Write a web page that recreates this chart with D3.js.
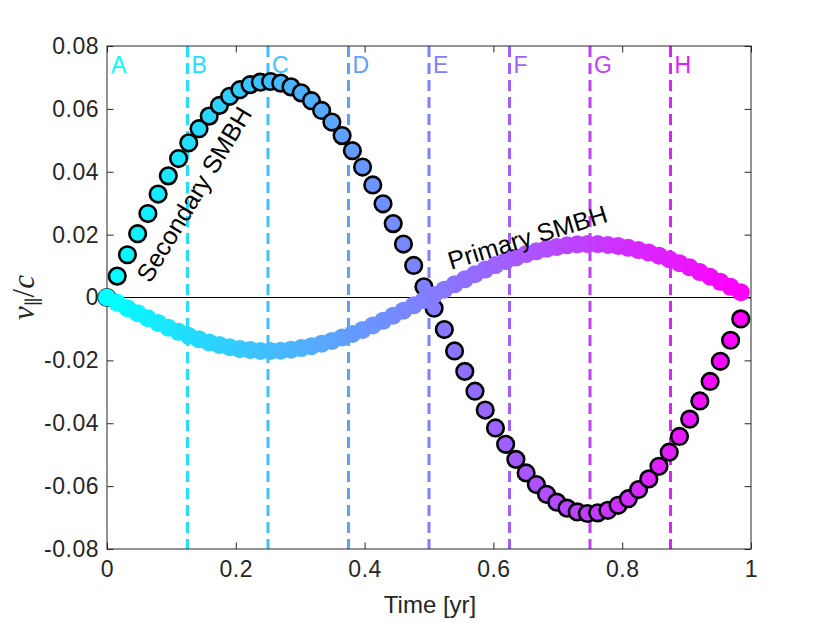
<!DOCTYPE html>
<html>
<head>
<meta charset="utf-8">
<script src="https://cdn.jsdelivr.net/npm/d3@7"></script>
<style>
  body { margin: 0; background: #fff; }
  text { font-family: "Liberation Sans", Arial, sans-serif; }
</style>
</head>
<body>
<script>
// sample times [yr]
var times = [0, 0.0159, 0.0317, 0.0476, 0.0635, 0.0794, 0.0952, 0.1111, 0.1270, 0.1429,
  0.1587, 0.1746, 0.1905, 0.2063, 0.2222, 0.2381, 0.2540, 0.2698, 0.2857, 0.3016,
  0.3175, 0.3333, 0.3492, 0.3651, 0.3810, 0.3968, 0.4127, 0.4286, 0.4444, 0.4603,
  0.4762, 0.4921, 0.5079, 0.5238, 0.5397, 0.5556, 0.5714, 0.5873, 0.6032, 0.6190,
  0.6349, 0.6508, 0.6667, 0.6825, 0.6984, 0.7143, 0.7302, 0.7460, 0.7619, 0.7778,
  0.7937, 0.8095, 0.8254, 0.8413, 0.8571, 0.8730, 0.8889, 0.9048, 0.9206, 0.9365,
  0.9524, 0.9683, 0.9841];
// secondary SMBH v/c
var secondary = [0, 0.0068, 0.0136, 0.0203, 0.0267, 0.0329, 0.0387, 0.0442, 0.0492, 0.0537,
  0.0577, 0.0611, 0.0640, 0.0661, 0.0677, 0.0685, 0.0687, 0.0682, 0.0670, 0.0651,
  0.0626, 0.0595, 0.0558, 0.0515, 0.0467, 0.0415, 0.0358, 0.0298, 0.0235, 0.0170,
  0.0102, 0.0034, -0.0034, -0.0102, -0.0170, -0.0235, -0.0298, -0.0358, -0.0415, -0.0467,
  -0.0515, -0.0558, -0.0595, -0.0626, -0.0651, -0.0670, -0.0682, -0.0687, -0.0685, -0.0677,
  -0.0661, -0.0640, -0.0611, -0.0577, -0.0537, -0.0492, -0.0442, -0.0387, -0.0329, -0.0267,
  -0.0203, -0.0136, -0.0068];
// primary SMBH v/c
var primary = [0, -0.0017, -0.0034, -0.0050, -0.0066, -0.0081, -0.0096, -0.0109, -0.0122, -0.0133,
  -0.0143, -0.0151, -0.0158, -0.0164, -0.0167, -0.0170, -0.0170, -0.0169, -0.0166, -0.0161,
  -0.0155, -0.0147, -0.0138, -0.0127, -0.0116, -0.0103, -0.0089, -0.0074, -0.0058, -0.0042,
  -0.0025, -0.0008, 0.0008, 0.0025, 0.0042, 0.0058, 0.0074, 0.0089, 0.0103, 0.0116,
  0.0127, 0.0138, 0.0147, 0.0155, 0.0161, 0.0166, 0.0169, 0.0170, 0.0170, 0.0167,
  0.0164, 0.0158, 0.0151, 0.0143, 0.0133, 0.0122, 0.0109, 0.0096, 0.0081, 0.0066,
  0.0050, 0.0034, 0.0017];
// phase markers
var markerTimes = [0, 0.125, 0.25, 0.375, 0.5, 0.625, 0.75, 0.875];
var markerLabels = ["A", "B", "C", "D", "E", "F", "G", "H"];
var xTicks = [0, 0.2, 0.4, 0.6, 0.8, 1];
var yTicks = [-0.08, -0.06, -0.04, -0.02, 0, 0.02, 0.04, 0.06, 0.08];

var W = 830, H = 623;
var m = {left: 107, top: 46, right: 79, bottom: 74};
var w = W - m.left - m.right, h = H - m.top - m.bottom;

var svg = d3.select("body").append("svg")
    .attr("width", W).attr("height", H);
var g = svg.append("g").attr("transform", "translate(" + m.left + "," + m.top + ")");

var x = d3.scaleLinear().domain([0, 1]).range([0, w]);
var y = d3.scaleLinear().domain([-0.08, 0.08]).range([h, 0]);
var cool = d3.interpolateRgb("#00ffff", "#ff00ff");
var colIdx = function(i) { return cool(i / (times.length - 1)); };

var axisCol = "#262626";

/*** axes ***/
var xAxis = d3.axisBottom(x).tickValues(xTicks).tickSizeInner(-6.5).tickSizeOuter(0)
    .tickPadding(12).tickFormat(function(d) { return d === 0 ? "0" : d === 1 ? "1" : d.toFixed(1); });
var yAxis = d3.axisLeft(y).tickValues(yTicks).tickSizeInner(-6.5).tickSizeOuter(0)
    .tickPadding(8).tickFormat(function(d) { return Math.abs(d) < 1e-9 ? "0" : d.toFixed(2); });

var gx = g.append("g").attr("transform", "translate(0," + h + ")").call(xAxis);
var gy = g.append("g").call(yAxis);
g.append("g").call(d3.axisTop(x).tickValues(xTicks).tickSizeInner(-6.5).tickSizeOuter(0).tickFormat(""));
g.append("g").attr("transform", "translate(" + w + ",0)")
  .call(d3.axisRight(y).tickValues(yTicks).tickSizeInner(-6.5).tickSizeOuter(0).tickFormat(""));
g.selectAll(".domain").remove();
g.selectAll(".tick line").attr("stroke", axisCol);
[gx, gy].forEach(function(a) {
  a.selectAll("text").attr("fill", axisCol).style("font-size", "23px")
    .style("letter-spacing", "0.5px");
});

/*** dashed phase lines ***/
g.selectAll(".phase").data(markerTimes.slice(1)).enter().append("line")
  .attr("x1", function(d) { return x(d); }).attr("x2", function(d) { return x(d); })
  .attr("y1", 0).attr("y2", h)
  .attr("stroke", function(d) { return cool(d); })
  .attr("stroke-width", 3)
  .attr("stroke-dasharray", "11,6");

g.selectAll(".plab").data(markerTimes).enter().append("text")
  .attr("x", function(d) { return x(d) + 4; })
  .attr("y", y(0.0715))
  .attr("fill", function(d) { return cool(d); })
  .style("font-size", "23px")
  .text(function(d, i) { return markerLabels[i]; });

/*** zero line ***/
g.append("line").attr("x1", 0).attr("x2", w).attr("y1", y(0)).attr("y2", y(0))
  .attr("stroke", "#000").attr("stroke-width", 1);

/*** box ***/
g.append("rect").attr("width", w).attr("height", h)
  .attr("fill", "none").attr("stroke", axisCol).attr("stroke-width", 1);

/*** secondary SMBH ***/
g.selectAll(".sec").data(times).enter().append("circle")
  .attr("cx", function(d) { return x(d); })
  .attr("cy", function(d, i) { return y(secondary[i]); })
  .attr("r", 8.3)
  .attr("fill", function(d, i) { return colIdx(i); })
  .attr("stroke", "#000").attr("stroke-width", 2.6);

/*** primary SMBH ***/
g.selectAll(".pri").data(times).enter().append("circle")
  .attr("cx", function(d) { return x(d); })
  .attr("cy", function(d, i) { return y(primary[i]); })
  .attr("r", 9)
  .attr("fill", function(d, i) { return colIdx(i); });

/*** annotations ***/
g.append("text")
  .attr("transform", "translate(" + (x(0.138)) + "," + y(0.0325) + ") rotate(-59)")
  .attr("text-anchor", "middle").attr("dominant-baseline", "middle")
  .style("font-size", "25px").attr("fill", "#000")
  .text("Secondary SMBH");
g.append("text")
  .attr("transform", "translate(" + (x(0.654)) + "," + y(0.0185) + ") rotate(-17)")
  .attr("text-anchor", "middle").attr("dominant-baseline", "middle")
  .style("font-size", "25px").attr("fill", "#000")
  .text("Primary SMBH");

/*** axis labels ***/
svg.append("text")
  .attr("x", m.left + w / 2 + 1).attr("y", H - 10)
  .attr("text-anchor", "middle").attr("fill", axisCol)
  .style("font-size", "24px")
  .text("Time [yr]");

var yl = svg.append("text")
  .attr("transform", "translate(34," + (m.top + h / 2) + ") rotate(-90)")
  .attr("text-anchor", "middle")
  .style("font-family", "'Liberation Serif', 'DejaVu Serif', serif")
  .style("font-size", "31px").attr("fill", axisCol);
yl.append("tspan").style("font-style", "italic").text("v");
yl.append("tspan").attr("dy", 6).style("font-size", "19px").text("\u2225");
yl.append("tspan").attr("dy", -6).text("/");
yl.append("tspan").style("font-style", "italic").text("c");
</script>
</body>
</html>
